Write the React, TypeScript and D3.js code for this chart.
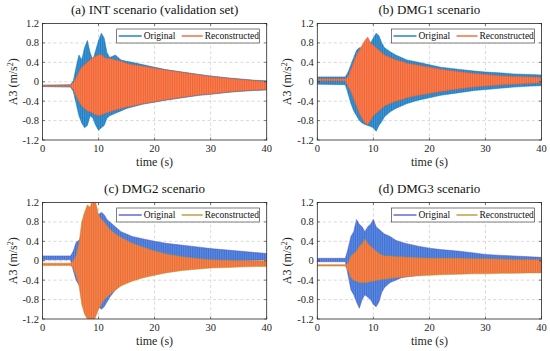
import React from 'react';
import * as d3 from 'd3';

// envelope sample times (s)
const envT = [0, 5, 5.5, 6, 6.5, 7, 7.5, 8, 8.5, 9, 9.5, 10, 10.5, 11, 11.5, 12, 13, 14, 15, 16, 18, 20, 22, 25, 28, 30, 33, 35, 38, 40];

// (a) INT
const aOrigHi = [-0.07, -0.06, 0.02, 0.3, 0.55, 0.45, 0.7, 0.85, 0.6, 0.45, 0.65, 0.85, 1.0, 0.9, 0.6, 0.5, 0.55, 0.45, 0.42, 0.4, 0.35, 0.3, 0.25, 0.2, 0.15, 0.12, 0.08, 0.06, 0.03, 0.02];
const aOrigLo = [-0.1, -0.11, -0.2, -0.45, -0.7, -0.85, -0.95, -0.9, -0.7, -0.75, -0.9, -1.0, -0.95, -0.9, -0.75, -0.7, -0.65, -0.6, -0.55, -0.52, -0.46, -0.42, -0.38, -0.33, -0.28, -0.26, -0.22, -0.2, -0.18, -0.17];
const aRecHi = [-0.075, -0.07, -0.02, 0.08, 0.2, 0.3, 0.35, 0.4, 0.45, 0.5, 0.52, 0.55, 0.56, 0.5, 0.48, 0.48, 0.45, 0.42, 0.38, 0.35, 0.32, 0.28, 0.24, 0.19, 0.14, 0.11, 0.07, 0.05, 0.02, 0.0];
const aRecLo = [-0.095, -0.1, -0.16, -0.3, -0.4, -0.5, -0.55, -0.6, -0.62, -0.65, -0.68, -0.7, -0.68, -0.66, -0.64, -0.62, -0.58, -0.55, -0.52, -0.5, -0.45, -0.41, -0.37, -0.32, -0.27, -0.25, -0.21, -0.19, -0.17, -0.16];

// (b) DMG1
const bOrigHi = [0.1, 0.1, 0.2, 0.35, 0.5, 0.65, 0.7, 0.7, 0.8, 0.85, 0.8, 0.9, 1.0, 0.95, 0.8, 0.7, 0.62, 0.55, 0.5, 0.45, 0.4, 0.35, 0.3, 0.26, 0.22, 0.2, 0.18, 0.16, 0.15, 0.14];
const bOrigLo = [-0.05, -0.06, -0.25, -0.45, -0.6, -0.7, -0.8, -0.85, -0.88, -0.9, -0.92, -0.95, -1.02, -0.9, -0.82, -0.72, -0.62, -0.55, -0.5, -0.45, -0.38, -0.33, -0.28, -0.23, -0.18, -0.16, -0.13, -0.11, -0.09, -0.08];
const bRecHi = [0.06, 0.06, 0.1, 0.25, 0.4, 0.55, 0.65, 0.75, 0.85, 0.92, 0.8, 0.75, 0.7, 0.65, 0.6, 0.55, 0.5, 0.45, 0.42, 0.38, 0.34, 0.3, 0.26, 0.21, 0.17, 0.15, 0.12, 0.11, 0.1, 0.09];
const bRecLo = [0.02, 0.02, -0.1, -0.2, -0.35, -0.5, -0.65, -0.75, -0.85, -0.88, -0.8, -0.7, -0.65, -0.6, -0.55, -0.5, -0.45, -0.4, -0.37, -0.33, -0.28, -0.24, -0.2, -0.15, -0.11, -0.09, -0.06, -0.05, -0.03, -0.02];

// (c) DMG2
const cOrigHi = [0.1, 0.1, 0.2, 0.38, 0.42, 0.5, 0.55, 0.6, 0.7, 0.8, 0.85, 0.95, 1.0, 0.95, 0.85, 0.8, 0.7, 0.6, 0.55, 0.5, 0.45, 0.4, 0.36, 0.32, 0.28, 0.25, 0.22, 0.2, 0.17, 0.15];
const cOrigLo = [0.02, 0.02, -0.2, -0.4, -0.5, -0.6, -0.7, -0.75, -0.8, -0.85, -0.9, -0.95, -1.0, -0.95, -0.85, -0.75, -0.6, -0.5, -0.42, -0.35, -0.25, -0.18, -0.12, -0.08, -0.05, -0.03, -0.01, 0.0, 0.01, 0.02];
const cRecHi = [-0.05, -0.05, 0.0, 0.1, 0.35, 0.8, 1.0, 1.15, 1.1, 1.3, 1.2, 0.95, 0.85, 0.8, 0.72, 0.65, 0.55, 0.48, 0.42, 0.36, 0.28, 0.2, 0.14, 0.08, 0.04, 0.02, 0.01, 0.0, 0.0, 0.0];
const cRecLo = [-0.1, -0.1, -0.15, -0.3, -0.5, -0.9, -1.1, -1.2, -1.25, -1.3, -1.15, -1.0, -0.9, -0.8, -0.75, -0.7, -0.6, -0.52, -0.47, -0.42, -0.35, -0.3, -0.25, -0.2, -0.17, -0.15, -0.14, -0.13, -0.12, -0.12];

// (d) DMG3
const dOrigHi = [0.05, 0.05, 0.25, 0.5, 0.6, 0.85, 0.75, 0.7, 0.6, 0.7, 0.75, 0.85, 0.7, 0.65, 0.6, 0.55, 0.5, 0.42, 0.38, 0.35, 0.3, 0.26, 0.23, 0.2, 0.16, 0.13, 0.11, 0.1, 0.08, 0.07];
const dOrigLo = [-0.02, -0.02, -0.3, -0.6, -0.7, -0.85, -0.98, -0.8, -0.7, -0.75, -0.8, -0.9, -0.95, -0.85, -0.65, -0.55, -0.45, -0.4, -0.35, -0.33, -0.3, -0.27, -0.25, -0.23, -0.22, -0.21, -0.2, -0.2, -0.2, -0.2];
const dRecHi = [-0.08, -0.08, -0.05, 0.1, 0.15, 0.2, 0.3, 0.35, 0.45, 0.35, 0.3, 0.25, 0.2, 0.15, 0.12, 0.1, 0.1, 0.08, 0.08, 0.07, 0.06, 0.05, 0.05, 0.05, 0.04, 0.04, 0.03, 0.02, 0.02, 0.02];
const dRecLo = [-0.11, -0.11, -0.2, -0.35, -0.4, -0.42, -0.45, -0.45, -0.45, -0.45, -0.42, -0.42, -0.4, -0.4, -0.38, -0.38, -0.36, -0.35, -0.34, -0.33, -0.31, -0.3, -0.29, -0.28, -0.27, -0.27, -0.26, -0.26, -0.25, -0.25];

const xTicks = [0, 10, 20, 30, 40];
const yTicks = [-1.2, -0.8, -0.4, 0, 0.4, 0.8, 1.2];
const seriesNames = ['Original', 'Reconstructed'];

const FONT = 'Liberation Serif';
const W = 224.2;
const H = 116.5;

type Colors = { orig: string; origEdge: string; rec: string; recEdge: string; legOrig: string; legRec: string };

type PanelProps = {
  id: string;
  x0: number;
  y0: number;
  title: string;
  origHi: number[];
  origLo: number[];
  recHi: number[];
  recLo: number[];
  colors: Colors;
};

// vertical hatch so the bands read like a dense oscillation trace
function Stripes({ id, color }: { id: string; color: string }) {
  return (
    <pattern id={id} patternUnits="userSpaceOnUse" width={1.8} height={4}>
      <rect width={1.8} height={4} fill={color} />
      <rect x={1.2} width={0.6} height={4} fill="#fff" opacity={0.3} />
    </pattern>
  );
}

function Panel({ id, x0, y0, title, origHi, origLo, recHi, recLo, colors }: PanelProps) {
  const x = d3.scaleLinear().domain([0, 40]).range([0, W]);
  const y = d3.scaleLinear().domain([-1.2, 1.2]).range([H, 0]);

  const band = (hi: number[], lo: number[]) =>
    d3
      .area<number>()
      .x((i) => x(envT[i]))
      .y0((i) => y(lo[i]))
      .y1((i) => y(hi[i]))(envT.map((_, i) => i)) || '';

  const fmt = (v: number) => (v < 0 ? '-' + Math.abs(v).toFixed(1) : v === 0 ? '0' : v.toFixed(1));

  return (
    <g transform={`translate(${x0},${y0})`}>
      <defs>
        <clipPath id={`clip-${id}`}>
          <rect x={0} y={0} width={W} height={H} />
        </clipPath>
        <Stripes id={`po-${id}`} color={colors.orig} />
        <Stripes id={`pr-${id}`} color={colors.rec} />
      </defs>
      <rect x={0} y={0} width={W} height={H} fill="#fff" />
      {/* grid */}
      {xTicks.slice(1, -1).map((t) => (
        <line key={'gx' + t} x1={x(t)} x2={x(t)} y1={0} y2={H} stroke="#c8c8c8" strokeWidth={0.7} strokeDasharray="3,2.5" />
      ))}
      {yTicks.slice(1, -1).map((t) => (
        <line key={'gy' + t} x1={0} x2={W} y1={y(t)} y2={y(t)} stroke="#c8c8c8" strokeWidth={0.7} strokeDasharray="3,2.5" />
      ))}
      <g clipPath={`url(#clip-${id})`}>
        <path d={band(origHi, origLo)} fill={`url(#po-${id})`} stroke={colors.origEdge} strokeWidth={0.5} />
        <path d={band(recHi, recLo)} fill={`url(#pr-${id})`} stroke={colors.recEdge} strokeWidth={0.5} />
      </g>
      {/* axes box */}
      <rect x={0} y={0} width={W} height={H} fill="none" stroke="#262626" strokeWidth={0.8} />
      {xTicks.map((t) => (
        <g key={'tx' + t}>
          <line x1={x(t)} x2={x(t)} y1={H} y2={H - 2.5} stroke="#262626" strokeWidth={0.6} />
          <line x1={x(t)} x2={x(t)} y1={0} y2={2.5} stroke="#262626" strokeWidth={0.6} />
          <text x={x(t)} y={H + 12} fontFamily={FONT} fontSize={10.5} textAnchor="middle" fill="#262626">
            {t}
          </text>
        </g>
      ))}
      {yTicks.map((t) => (
        <g key={'ty' + t}>
          <line x1={0} x2={2.5} y1={y(t)} y2={y(t)} stroke="#262626" strokeWidth={0.6} />
          <line x1={W} x2={W - 2.5} y1={y(t)} y2={y(t)} stroke="#262626" strokeWidth={0.6} />
          <text x={-3.5} y={y(t) + 3.5} fontFamily={FONT} fontSize={10.5} textAnchor="end" fill="#262626">
            {fmt(t)}
          </text>
        </g>
      ))}
      <text x={W / 2} y={H + 26} fontFamily={FONT} fontSize={12} textAnchor="middle" fill="#262626">
        time (s)
      </text>
      <text transform={`translate(${-26},${H / 2}) rotate(-90)`} fontFamily={FONT} fontSize={12} textAnchor="middle" fill="#262626">
        A3 (m/s<tspan fontSize={8} dy={-4}>2</tspan>
        <tspan dy={4}>)</tspan>
      </text>
      <text x={W / 2} y={-9.5} fontFamily={FONT} fontSize={13} textAnchor="middle" fill="#111">
        {title}
      </text>
      {/* legend */}
      <g transform={`translate(${W - 150},5.5)`}>
        <rect x={0} y={0} width={143} height={14} fill="#fff" stroke="#262626" strokeWidth={0.6} />
        <line x1={2} x2={25} y1={7} y2={7} stroke={colors.legOrig} strokeWidth={1.3} />
        <text x={27} y={10.3} fontFamily={FONT} fontSize={9.5} fill="#111">
          {seriesNames[0]}
        </text>
        <line x1={65} x2={86} y1={7} y2={7} stroke={colors.legRec} strokeWidth={1.3} />
        <text x={88} y={10.3} fontFamily={FONT} fontSize={9.5} fill="#111">
          {seriesNames[1]}
        </text>
      </g>
    </g>
  );
}

const topColors: Colors = { orig: '#1b7cc4', origEdge: '#0072BD', rec: '#f3622f', recEdge: '#ee5a28', legOrig: '#0072BD', legRec: '#f05a28' };
const botColors: Colors = { orig: '#3b6fd6', origEdge: '#5552cc', rec: '#ee6a2c', recEdge: '#b8902a', legOrig: '#4a52c8', legRec: '#b8902a' };

export default function App() {
  return (
    <svg width={550} height={351} style={{ position: 'absolute', left: 0, top: 0, background: '#fff' }}>
      <rect width={550} height={351} fill="#fff" />
      <Panel id="a" x0={42.5} y0={23.5} title="(a) INT scenario (validation set)" origHi={aOrigHi} origLo={aOrigLo} recHi={aRecHi} recLo={aRecLo} colors={topColors} />
      <Panel id="b" x0={317.3} y0={23.5} title="(b) DMG1 scenario" origHi={bOrigHi} origLo={bOrigLo} recHi={bRecHi} recLo={bRecLo} colors={topColors} />
      <Panel id="c" x0={42.5} y0={202.5} title="(c) DMG2 scenario" origHi={cOrigHi} origLo={cOrigLo} recHi={cRecHi} recLo={cRecLo} colors={botColors} />
      <Panel id="d" x0={317.3} y0={202.5} title="(d) DMG3 scenario" origHi={dOrigHi} origLo={dOrigLo} recHi={dRecHi} recLo={dRecLo} colors={botColors} />
    </svg>
  );
}
